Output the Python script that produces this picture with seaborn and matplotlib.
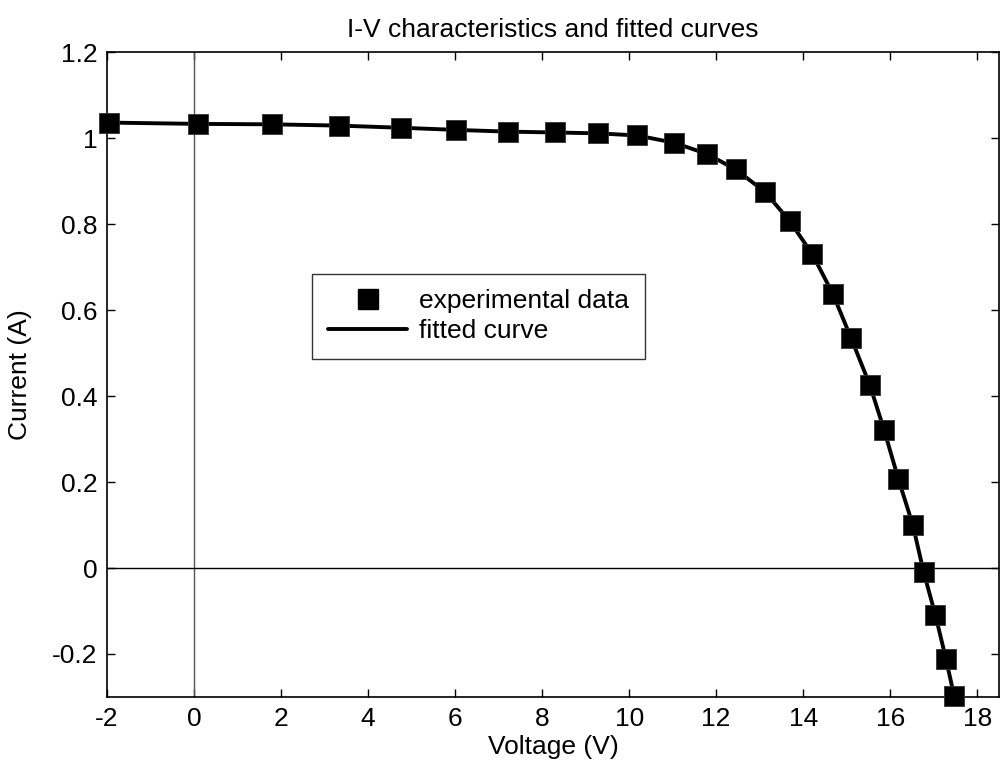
import matplotlib
matplotlib.use("Agg")
import matplotlib.pyplot as plt
import seaborn as sns
import pandas as pd
from matplotlib.lines import Line2D

voltage = [-1.95, 0.08, 1.79, 3.34, 4.76, 6.03, 7.21, 8.30, 9.29, 10.19, 11.04,
           11.79, 12.45, 13.12, 13.69, 14.21, 14.68, 15.10, 15.53, 15.86, 16.19,
           16.52, 16.77, 17.04, 17.28, 17.47]
current = [1.036, 1.033, 1.032, 1.029, 1.024, 1.019, 1.015, 1.013, 1.011, 1.006,
           0.989, 0.963, 0.927, 0.875, 0.807, 0.730, 0.638, 0.535, 0.426, 0.321,
           0.206, 0.100, -0.010, -0.110, -0.211, -0.298]

x_ticks = [-2, 0, 2, 4, 6, 8, 10, 12, 14, 16, 18]
y_ticks = [-0.2, 0, 0.2, 0.4, 0.6, 0.8, 1.0, 1.2]
y_tick_labels = ["-0.2", "0", "0.2", "0.4", "0.6", "0.8", "1", "1.2"]

df = pd.DataFrame({"Voltage": voltage, "Current": current})

sns.set_theme(style="white")
plt.rcParams['font.family'] = ['Liberation Sans', 'DejaVu Sans']
plt.rcParams['text.color'] = 'black'
plt.rcParams['axes.labelcolor'] = 'black'

FS = 19

fig = plt.figure(figsize=(10, 7.66), dpi=100)
ax = fig.add_axes([0.107, 0.0901, 0.892, 0.8419])

ax.axvline(0, color="#555555", lw=1.0, zorder=1)
ax.axhline(0, color="black", lw=1.0, zorder=1)

sns.lineplot(data=df, x="Voltage", y="Current", sort=False, color="black",
             lw=2.8, ax=ax, zorder=2, legend=False)
sns.scatterplot(data=df, x="Voltage", y="Current", marker="s", s=200,
                color="black", edgecolor="#333333", linewidth=0.6, ax=ax,
                zorder=3, legend=False, clip_on=False)

ax.set_xlim(-2, 18.5)
ax.set_ylim(-0.3, 1.2)
ax.set_xticks(x_ticks)
ax.set_xticklabels([str(t) for t in x_ticks])
ax.set_yticks(y_ticks)
ax.set_yticklabels(y_tick_labels)

ax.tick_params(direction="in", length=6, width=1, labelsize=FS, color="black",
               top=True, right=True, bottom=True, left=True, pad=7,
               labelcolor="black")
for sp in ax.spines.values():
    sp.set_visible(True)
    sp.set_color("black")
    sp.set_linewidth(1.2)

ax.set_xlabel("Voltage (V)", fontsize=FS, color="black", labelpad=3)
ax.set_ylabel("Current (A)", fontsize=FS, color="black", labelpad=14)
ax.set_title("I-V characteristics and fitted curves", fontsize=FS,
             color="black", pad=11)

handles = [
    Line2D([], [], ls="none", marker="s", markersize=14, color="black"),
    Line2D([], [], ls="-", lw=2.8, color="black"),
]
leg = ax.legend(handles, ["experimental data", "fitted curve"],
                loc="upper left", bbox_to_anchor=(0.230, 0.6566),
                fontsize=FS, frameon=True, fancybox=False,
                edgecolor="black", handlelength=3.0, borderpad=0.6,
                labelspacing=0.22, handletextpad=0.45, borderaxespad=0)
leg.get_frame().set_linewidth(1.0)
for t in leg.get_texts():
    t.set_color("black")

fig.savefig("out.png", dpi=100, facecolor="white")
